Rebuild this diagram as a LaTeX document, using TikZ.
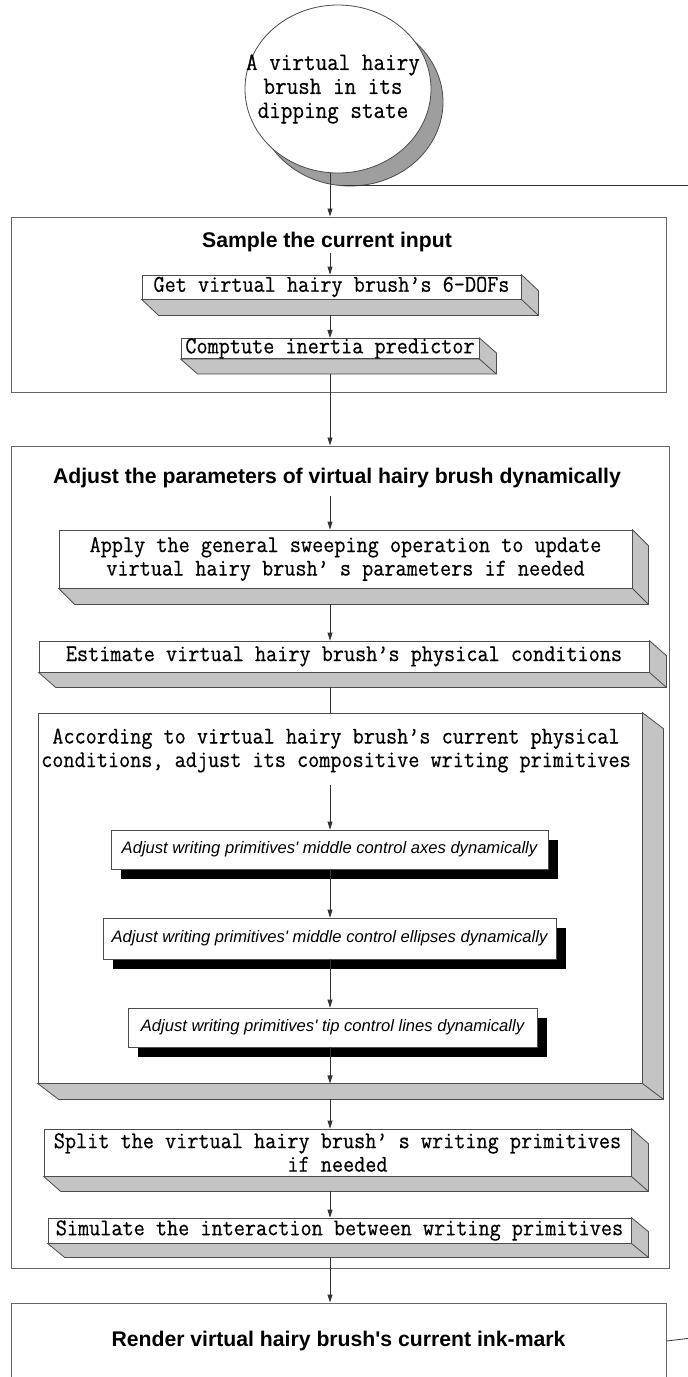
\documentclass[tikz,border=0pt]{standalone}
\usepackage{fontspec}
\setsansfont{Liberation Sans}[Ligatures=TeXOff]
\setmonofont{Latin Modern Mono}[FakeStretch=0.9, FakeBold=0.5]
\usetikzlibrary{calc,shapes.geometric,shadows,arrows.meta}
\newcommand\monotext{\ttfamily\fontsize{24}{23.5}\selectfont}
\newcommand\itsans{\sffamily\itshape\fontsize{16.6}{19}\selectfont}
\newcommand\headsans{\sffamily\bfseries\fontsize{21.2}{24}\selectfont}
\def\slabdepth(#1)(#2:#3){\filldraw[slabside] (#1.south west) -- (#1.south east) -- (#1.north east) -- ++(#2,-#3) -- ($(#1.south east)+(#2,-#3)$) -- ($(#1.south west)+(#2,-#3)$) -- cycle; \draw[slabedge] (#1.south east) -- ++(#2,-#3);}

\begin{document}
\begin{tikzpicture}[x=1pt,y=1pt,
		conn/.style={draw=black!80, line width=0.8pt},
		arr/.style={conn, -{Triangle[length=8pt,width=5pt]}},
		frame/.style={draw=black!60, line width=0.9pt, inner sep=0pt},
		slab/.style={draw=black!70, fill=white, line width=0.8pt, inner sep=0pt, align=center, font=\monotext},
		slabside/.style={draw=black!70, fill=black!23, line width=0.8pt},
		slabedge/.style={draw=black!70, line width=0.8pt},
		flat/.style={draw=black!70, fill=white, line width=0.8pt, inner sep=0pt, font=\itsans, drop shadow={shadow xshift=10pt, shadow yshift=-10pt, fill=black, opacity=1}},
		heading/.style={inner sep=1pt, font=\headsans}]
			%%%%% START %%%%%
			
			\useasboundingbox (0,0) rectangle (688,-1377);
			\coordinate (axis) at (330,0);
			
			\node[ellipse, draw=black!70, fill=white, line width=0.8pt, minimum width=186, minimum height=168, inner sep=0pt, drop shadow={shadow xshift=12pt, shadow yshift=-13pt, fill=black!38, draw=black!70, opacity=1}] (brush) at (338,-89) {};
			\node[align=center, inner sep=0pt, font=\ttfamily\fontsize{25}{24}\selectfont] (brushtxt) at (333,-89) {A virtual hairy\\brush in its\\dipping state};
			
			\node[frame, minimum width=655, minimum height=175] (sample) at (338.5,-304.5) {};
			\node[heading] (samptitle) at (327,-242) {Sample the current input};
			\node[slab, minimum width=379, minimum height=24] (get) at (331.5,-287) {Get virtual hairy brush’s 6-DOFs};
			\slabdepth(get)(17:16)
			\node[slab, minimum width=298, minimum height=19] (pred) at (330,-348.5) {Comptute inertia predictor};
			\slabdepth(pred)(17:15)
			
			\node[frame, minimum width=658, minimum height=822] (adjust) at (340,-857) {};
			\node[heading] (adjtitle) at (337,-478) {Adjust the parameters of virtual hairy brush dynamically};
			\node[slab, minimum width=573, minimum height=58] (apply) at (345.5,-559) {Apply the general sweeping operation to update\\virtual hairy brush’ s parameters if needed};
			\slabdepth(apply)(16:16)
			\node[slab, minimum width=610, minimum height=31] (est) at (344,-656.5) {Estimate virtual hairy brush’s physical conditions};
			\slabdepth(est)(17:15)
			
			\node[slab, minimum width=604, minimum height=370] (acc) at (340,-898) {};
			\slabdepth(acc)(21:16)
			\node[font=\monotext, align=center, inner sep=0pt] (acctxt) at (336,-750.5) {According to virtual hairy brush’s current physical\\conditions, adjust its compositive writing primitives};
			\node[flat, minimum width=437, minimum height=39] (axes) at (329.5,-849.5) {Adjust writing primitives' middle control axes dynamically};
			\node[flat, minimum width=453, minimum height=41] (ellip) at (329.5,-938.5) {Adjust writing primitives' middle control ellipses dynamically};
			\node[flat, minimum width=409, minimum height=39] (tip) at (332.5,-1027.5) {Adjust writing primitives' tip control lines dynamically};
			
			\node[slab, minimum width=587, minimum height=47] (split) at (337.5,-1152.5) {Split the virtual hairy brush’ s writing primitives\\if needed};
			\slabdepth(split)(17:15)
			\node[slab, minimum width=583, minimum height=25] (simul) at (339.5,-1230.5) {Simulate the interaction between writing primitives};
			\slabdepth(simul)(17:14)
			
			\node[frame, minimum width=655, minimum height=76, font=\headsans] (render) at (338.5,-1341) {Render virtual hairy brush's current ink-mark};
			
			\draw[arr] (brush.south -| axis) -- (sample.north -| axis);
			\draw[arr] (samptitle.south -| axis) -- (get.north -| axis);
			\draw[arr, shorten <=16pt] (get.south -| axis) -- (pred.north -| axis);
			\draw[arr, shorten <=15pt] (pred.south -| axis) -- (adjust.north -| axis);
			\draw[arr, shorten <=7pt] (adjtitle.south -| axis) -- (apply.north -| axis);
			\draw[arr, shorten <=16pt] (apply.south -| axis) -- (est.north -| axis);
			\draw[conn, shorten <=15pt] (est.south -| axis) -- (acc.north -| axis);
			\draw[arr, shorten <=12pt] (acctxt.south -| axis) -- (axes.north -| axis);
			\draw[arr] (axes.south -| axis) -- (ellip.north -| axis);
			\draw[arr] (ellip.south -| axis) -- (tip.north -| axis);
			\draw[arr] (tip.south -| axis) -- (acc.south -| axis);
			\draw[arr, shorten <=16pt] (acc.south -| axis) -- (split.north -| axis);
			\draw[arr, shorten <=15pt] (split.south -| axis) -- (simul.north -| axis);
			\draw[arr, shorten <=14pt] (simul.south -| axis) -- (render.north -| axis);
			
			% loop back lines, cut at the right edge
			\coordinate (shadowbot) at (342,-185.5);
			\coordinate (loopout) at (700,-185.5);
			\draw[conn] (shadowbot) -- (loopout);
			\coordinate (loopin) at (700,-1337);
			\draw[conn] (render.east) -- (loopin);
			
			%%%%% END %%%%%
		\end{tikzpicture}
\end{document}
